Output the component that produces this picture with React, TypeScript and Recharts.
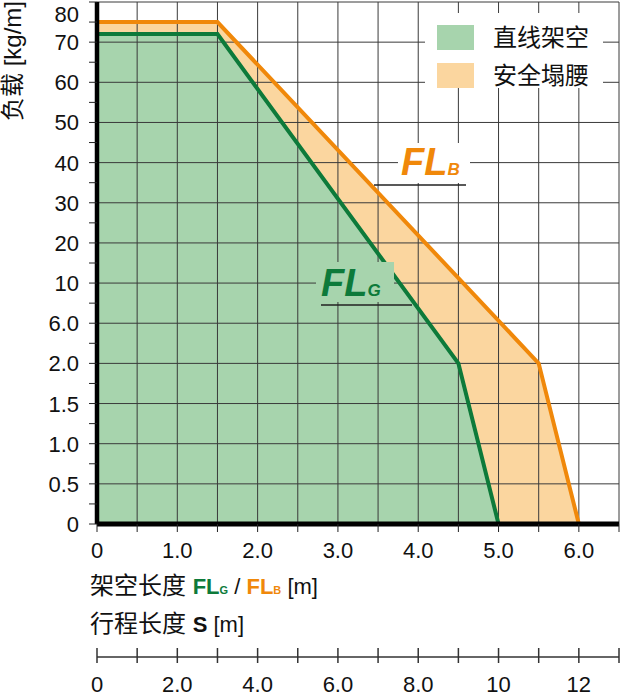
import React from 'react';
import { ComposedChart, Area, Line, XAxis, YAxis, ReferenceLine } from 'recharts';

// load axis: evenly spaced but non-linear tick values
const loadTicks = [0, 0.5, 1.0, 1.5, 2.0, 6.0, 10, 20, 30, 40, 50, 60, 70, 80];
const loadLabels = ['0', '0.5', '1.0', '1.5', '2.0', '6.0', '10', '20', '30', '40', '50', '60', '70', '80'];

// span axis (FL) and stroke axis (S = 2 x FL)
const spanTicks = [0, 0.5, 1, 1.5, 2, 2.5, 3, 3.5, 4, 4.5, 5, 5.5, 6, 6.5];
const spanLabels: Record<number, string> = { 0: '0', 1: '1.0', 2: '2.0', 3: '3.0', 4: '4.0', 5: '5.0', 6: '6.0' };
const strokeTicks = [0, 1, 2, 3, 4, 5, 6, 7, 8, 9, 10, 11, 12, 13];
const strokeLabels: Record<number, string> = { 0: '0', 2: '2.0', 4: '4.0', 6: '6.0', 8: '8.0', 10: '10', 12: '12' };

// FL_G: self-supporting
const greenSpan = [0, 1.5, 4.5, 5.0];
const greenLoad = [72, 72, 2.0, 0];
// FL_B: sagging
const orangeSpan = [0, 1.5, 5.5, 6.0];
const orangeLoad = [75, 75, 2.0, 0];

const legendNames = ['直线架空', '安全塌腰'];

const FONT = '"Liberation Sans", "Noto Sans CJK SC", Arial, sans-serif';
const GREEN = '#0d7a3a';
const ORANGE = '#f0880a';
const GREEN_FILL = '#a7d4ad';
const ORANGE_FILL = '#fbd69f';
const GRID = '#3a3a3a';

// value -> position on the evenly spaced load axis
const toIdx = (v: number) => {
  for (let i = 1; i < loadTicks.length; i++) {
    if (v <= loadTicks[i]) {
      const a = loadTicks[i - 1];
      const b = loadTicks[i];
      return i - 1 + (v - a) / (b - a);
    }
  }
  return loadTicks.length - 1;
};

const allSpans = Array.from(new Set([...greenSpan, ...orangeSpan])).sort((a, b) => a - b);
const data = allSpans.map((x) => {
  const gi = greenSpan.indexOf(x);
  const oi = orangeSpan.indexOf(x);
  return {
    x,
    s: x * 2,
    g: gi >= 0 ? toIdx(greenLoad[gi]) : null,
    b: oi >= 0 ? toIdx(orangeLoad[oi]) : null,
  };
});

const yTicks = loadTicks.flatMap((_, i) => (i < loadTicks.length - 1 ? [i, i + 0.5] : [i]));

const YTick = (props: any) => {
  const { x, y, payload } = props;
  const v = payload.value;
  if (!Number.isInteger(v)) return <g />;
  const top = v === loadTicks.length - 1;
  return (
    <text x={x - 8} y={y + (top ? 20 : 8)} textAnchor="end" fontSize={22} fontFamily={FONT} fill="#111">
      {loadLabels[v]}
    </text>
  );
};

const XTick = (props: any) => {
  const { x, y, payload } = props;
  const label = spanLabels[payload.value];
  if (label === undefined) return <g />;
  return (
    <text x={x} y={y + 24} textAnchor="middle" fontSize={22} fontFamily={FONT} fill="#111">
      {label}
    </text>
  );
};

const STick = (props: any) => {
  const { x, y, payload } = props;
  const label = strokeLabels[payload.value];
  return (
    <g>
      <line x1={x} x2={x} y1={y - 9} y2={y + 6} stroke="#333" strokeWidth={1.5} />
      {label !== undefined && (
        <text x={x} y={y + 35} textAnchor="middle" fontSize={22} fontFamily={FONT} fill="#111">
          {label}
        </text>
      )}
    </g>
  );
};

export default function App() {
  return (
    <div style={{ position: 'absolute', left: 0, top: 0, width: 621, height: 698, fontFamily: FONT, background: '#fff' }}>
      <ComposedChart width={621} height={698} data={data} margin={{ top: 2, right: 2, left: 0, bottom: 0 }}>
        <XAxis
          dataKey="x"
          type="number"
          domain={[0, 6.5]}
          ticks={spanTicks}
          interval={0}
          height={133}
          tickSize={8}
          tickLine={{ stroke: '#222', strokeWidth: 1 }}
          axisLine={{ stroke: '#000', strokeWidth: 5 }}
          tick={<XTick />}
        />
        <XAxis
          xAxisId="s"
          dataKey="s"
          type="number"
          domain={[0, 13]}
          allowDataOverflow
          ticks={strokeTicks}
          interval={0}
          height={41}
          tickSize={0}
          tickMargin={0}
          tickLine={false}
          axisLine={{ stroke: '#333', strokeWidth: 1.5 }}
          tick={<STick />}
        />
        <YAxis
          type="number"
          domain={[0, 13]}
          ticks={yTicks}
          interval={0}
          width={97}
          tickSize={8}
          tickLine={{ stroke: '#222', strokeWidth: 1 }}
          axisLine={{ stroke: '#000', strokeWidth: 4.5 }}
          tick={<YTick />}
        />
        <Area dataKey="b" type="linear" connectNulls fill={ORANGE_FILL} fillOpacity={1} stroke="none" isAnimationActive={false} />
        <Area dataKey="g" type="linear" connectNulls fill={GREEN_FILL} fillOpacity={1} stroke="none" isAnimationActive={false} />
        {loadTicks.map((_, i) => (
          <ReferenceLine key={`h${i}`} y={i} stroke={GRID} strokeWidth={1} />
        ))}
        {spanTicks.map((t) => (
          <ReferenceLine key={`v${t}`} x={t} stroke={GRID} strokeWidth={1} />
        ))}
        <Line dataKey="b" type="linear" connectNulls stroke={ORANGE} strokeWidth={4} dot={false} isAnimationActive={false} />
        <Line dataKey="g" type="linear" connectNulls stroke={GREEN} strokeWidth={4} dot={false} isAnimationActive={false} />
      </ComposedChart>

      <svg width={621} height={698} style={{ position: 'absolute', left: 0, top: 0, pointerEvents: 'none' }}>
        {/* y axis title */}
        <text x={21} y={1} transform="rotate(-90 21 1)" textAnchor="end" fontSize={24} fontFamily={FONT} fill="#111">
          负载 [kg/m]
        </text>

        {/* legend */}
        <rect x={425} y={13} width={178} height={75} fill="#fff" />
        <rect x={437} y={25} width={37} height={25} fill={GREEN_FILL} />
        <rect x={437} y={63} width={37} height={25} fill={ORANGE_FILL} />
        <text x={493} y={46} fontSize={24} fontFamily={FONT} fill="#111">{legendNames[0]}</text>
        <text x={493} y={84} fontSize={24} fontFamily={FONT} fill="#111">{legendNames[1]}</text>

        {/* FL_B annotation */}
        <rect x={398} y={143} width={72} height={40} fill="#fff" />
        <text x={401} y={175} fontSize={38} fontWeight="bold" fontStyle="italic" fontFamily={FONT} fill={ORANGE}>
          FL<tspan fontSize={17}>B</tspan>
        </text>
        <line x1={374} x2={466} y1={185} y2={185} stroke="#222" strokeWidth={1.5} />

        {/* FL_G annotation */}
        <rect x={316} y={262} width={78} height={40} fill={GREEN_FILL} />
        <text x={321} y={296} fontSize={38} fontWeight="bold" fontStyle="italic" fontFamily={FONT} fill={GREEN}>
          FL<tspan fontSize={17}>G</tspan>
        </text>
        <line x1={321} x2={412} y1={305} y2={305} stroke="#222" strokeWidth={1.5} />

        {/* axis titles */}
        <text x={90} y={594} fontSize={22} fontFamily={FONT} fill="#111">
          <tspan fontSize={24}>架空长度 </tspan>
          <tspan fontWeight="bold" fill={GREEN}>FL</tspan>
          <tspan fontWeight="bold" fill={GREEN} fontSize={11}>G</tspan>
          <tspan> / </tspan>
          <tspan fontWeight="bold" fill={ORANGE}>FL</tspan>
          <tspan fontWeight="bold" fill={ORANGE} fontSize={11}>B</tspan>
          <tspan> [m]</tspan>
        </text>
        <text x={90} y={632} fontSize={22} fontFamily={FONT} fill="#111">
          <tspan fontSize={24}>行程长度 </tspan>
          <tspan fontWeight="bold">S</tspan>
          <tspan> [m]</tspan>
        </text>
      </svg>
    </div>
  );
}
